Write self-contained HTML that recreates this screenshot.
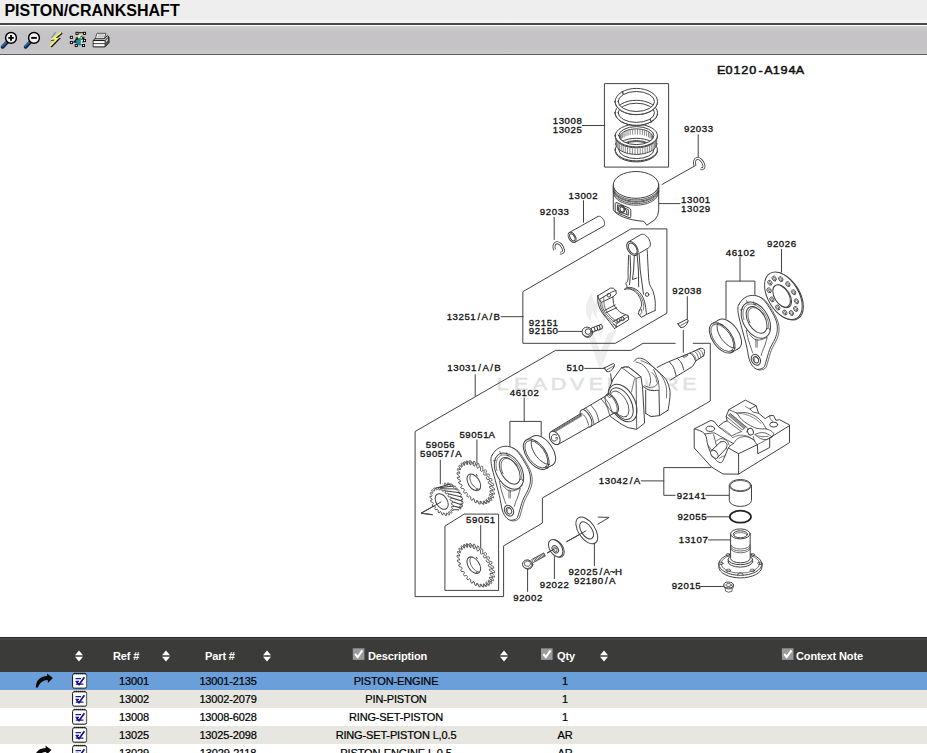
<!DOCTYPE html>
<html>
<head>
<meta charset="utf-8">
<title>PISTON/CRANKSHAFT</title>
<style>
html,body{margin:0;padding:0;background:#fff;}
body{width:927px;height:753px;overflow:hidden;position:relative;font-family:"Liberation Sans",Arial,sans-serif;color:#000;}
#title{position:absolute;left:0;top:0;width:927px;height:24px;background:linear-gradient(#eeeeee,#eeeeee 18px,#f2f3f3 21px,#f5f5f5);}
#title span{position:absolute;left:4.4px;top:1px;font-size:16px;font-weight:bold;line-height:19px;letter-spacing:0.03px;white-space:nowrap;}
#tline{position:absolute;left:0;top:23px;width:927px;height:2px;background:#4a4a4a;}
#tbar{position:absolute;left:0;top:26px;width:927px;height:28px;background:linear-gradient(#d0d0d0,#c8c7c8 4px,#c5c3c5 8px,#c5c3c5 24px,#cccbcc 27px);}
#tline2{position:absolute;left:0;top:54px;width:927px;height:1px;background:#5c5c5c;}
#icons{position:absolute;left:0;top:26px;}
#diagram{position:absolute;left:0;top:55px;}
#thead{position:absolute;left:0;top:637px;width:927px;height:35px;background:linear-gradient(#2c2c2c,#2c2c2c 1.5px,#454545 1.5px,#454545 3px,#3b3b39 3.5px);box-sizing:border-box;color:#fff;font-weight:bold;font-size:11px;}
#thead span{position:absolute;top:12.6px;line-height:13px;white-space:nowrap;letter-spacing:-0.12px;}
.sa{position:absolute;top:0;left:0;}
.row{position:absolute;left:0;width:927px;height:18px;font-size:11px;line-height:18px;letter-spacing:-0.15px;-webkit-text-stroke:0.22px #000;}
.row span{position:absolute;top:0;white-space:nowrap;transform:translateX(-50%);}
.r0{background:#6b9fd9;}
.r1{background:#e8e6e1;}
.r2{background:#fff;}
</style>
</head>
<body>
<div id="title"><span>PISTON/CRANKSHAFT</span></div>
<div id="tline"></div>
<div id="tbar"></div>
<div id="tline2"></div>
<svg id="icons" width="120" height="28" viewBox="0 26 120 28">
<defs><linearGradient id="hg" x1="0" y1="0" x2="1" y2="1"><stop offset="0" stop-color="#7fb4dc"/><stop offset="0.5" stop-color="#1f5f9a"/><stop offset="1" stop-color="#0a1e46"/></linearGradient></defs>
<g id="zin">
<path d="M7 42.3 L2.6 46.9" stroke="#0b1a3a" stroke-width="3.6" stroke-linecap="round"/>
<path d="M6.6 41.9 L2.4 46.3" stroke="url(#hg)" stroke-width="2.2" stroke-linecap="round"/>
<circle cx="11" cy="37.9" r="5.4" fill="#f2f2f2" stroke="#000" stroke-width="1.5"/>
<path d="M8.2 37.9H13.8M11 35.1V40.7" stroke="#000" stroke-width="1.9"/>
</g>
<g id="zout" transform="translate(23,0)">
<path d="M7 42.3 L2.6 46.9" stroke="#0b1a3a" stroke-width="3.6" stroke-linecap="round"/>
<path d="M6.6 41.9 L2.4 46.3" stroke="url(#hg)" stroke-width="2.2" stroke-linecap="round"/>
<circle cx="11" cy="37.9" r="5.4" fill="#f2f2f2" stroke="#000" stroke-width="1.5"/>
<path d="M8.2 37.9H13.8" stroke="#000" stroke-width="1.9"/>
</g>
<g id="bolt">
<path d="M55.6 32.4 L51.4 38" stroke="#8a8a8a" stroke-width="1.1"/>
<path d="M61.9 32.8 L54 39.4 L58.1 39.2 L50.9 46.6" fill="none" stroke="#111" stroke-width="2.3" stroke-linejoin="miter" stroke-linecap="butt"/>
<path d="M61.1 32.3 L53 38.8 L57.2 38.6 L50.2 45.9" fill="none" stroke="#f6f670" stroke-width="1.7" stroke-linejoin="miter" stroke-linecap="butt"/>
</g>
<g id="bug">
<path d="M72.6 42.6 L77.6 37.2 L78.2 43.2 Z" fill="#15154f"/>
<circle cx="79.7" cy="41.8" r="3.7" fill="#1f8a8a"/>
<path d="M80.8 39.9 h2.4 v1.3 h-1.3 v1.5 h1.3 v1.3 h-2.4 z" fill="#e4e4e4"/>
<path d="M78.2 37.6 Q78 34.4 80.8 34.4 Q83.6 34.4 83.4 37.6 Q80.8 38.8 78.2 37.6Z" fill="#f2f2a4"/>
<path d="M80.2 37.6 Q80.4 35.8 82.6 36" fill="none" stroke="#222" stroke-width="0.9"/>
<path d="M78.2 32.7 H83.4" stroke="#000" stroke-width="0.9"/>
<g fill="#fff" stroke="#000" stroke-width="0.9">
<rect x="76" y="32.3" width="2.1" height="2.1"/><rect x="83.5" y="32.3" width="2.1" height="2.1"/>
<rect x="70.3" y="36.3" width="2.1" height="2.1"/><rect x="70.3" y="41.5" width="2.1" height="2.1"/>
<rect x="75.2" y="44.5" width="2.1" height="2.1"/><rect x="82.5" y="44.5" width="2.1" height="2.1"/>
<rect x="83.5" y="39.5" width="2.1" height="2.1"/>
<rect x="76.2" y="38" width="1.3" height="1.3"/>
<rect x="82.6" y="37.2" width="1.3" height="1.3"/>
</g>
</g>
<g id="printer">
<path d="M95.2 39.2 L97 33.3 L105.9 33.3 L104.2 39.2 Z" fill="#fff" stroke="#444" stroke-width="0.9"/>
<path d="M98 35 H104.3 M97.5 36.9 H103.8" stroke="#9a9a9a" stroke-width="0.9"/>
<path d="M93.2 40.3 L95 38.8 L104.6 38.8 L107.4 35.6 L108.9 37.2 L108.9 42.6 L104.8 46.9 L93.2 46.9 Z" fill="#e9e9e9" stroke="#1a1a1a" stroke-width="1"/>
<path d="M104.8 40.6 L108.7 36.8 L108.9 42.6 L104.8 46.9 Z" fill="#555" stroke="#1a1a1a" stroke-width="0.6"/>
<path d="M105.8 40.6 L107.9 38.4 L107.9 40.2 L105.8 42.6 Z" fill="#ddd"/>
<path d="M93.2 40.5 H104.8" stroke="#1a1a1a" stroke-width="1"/>
<path d="M93.6 42.2 H104.6" stroke="#fff" stroke-width="1.1"/>
<path d="M93.2 43.6 H104.8" stroke="#333" stroke-width="0.9"/>
<path d="M93.6 45.2 H104.6" stroke="#fff" stroke-width="1.1"/>
</g>
</svg>
<svg id="diagram" width="927" height="580" viewBox="0 55 927 580" fill="none" stroke="#424242" stroke-width="1" stroke-linecap="round" stroke-linejoin="round">
<g id="wm" stroke="none" fill="#eeeeee">
<path d="M592 292 C589 298 585.5 302 586 310 C586.4 316 589 320 592 323 C590.6 318 591 314 593 311 C593.6 315 595 317 597.4 318.6 C596 314 596.6 310 598.6 306 C599.6 310 601.4 312 602.4 316 C603.2 320 601.6 323 599.6 325.6 C604 323 606.6 318 605.6 312 C604.6 306 600 302 598.6 296 C597 299 595.6 301 595.4 304 C593.4 300 592 297 592 292 Z"/>
<path d="M587 330 L593.4 334 L600.4 352 L607.6 334 L616.6 328.6 L613.4 337 L601 368 L599.4 368 L589.6 340 Z"/>
<path d="M596 326 L600.4 338 L604.6 326 L602.6 325 L600.4 331 L598 325 Z"/>
<text transform="scale(1.3,1)" font-family="Liberation Sans, Arial, sans-serif" font-size="16.6" text-anchor="middle" fill="#e1e1e1" stroke="#e1e1e1" stroke-width="0.5" x="386.5 400.9 415.3 429.7 444.1 458.5 472.8 487.2 501.6 516 530.4" y="390.4">LEADVENTURE</text>
</g>
<g font-family="Liberation Sans, Arial, sans-serif" fill="#111" stroke="none">
<text transform="scale(1.08,1)" x="667.8 675.1 682.4 689.7 696.9 704.2 711.5 718.8 726 733.3 740.6" y="74" font-size="11.7" font-weight="normal" stroke="#111" stroke-width="0.5" text-anchor="middle">E0120-A194A</text>
<text transform="scale(1.11,1)" x="500.5 505.8 511.1 516.5 521.8" y="124.5" font-size="8.7" font-weight="normal" stroke="#111" stroke-width="0.3" text-anchor="middle">13008</text>
<text transform="scale(1.11,1)" x="500.5 505.8 511.1 516.5 521.8" y="133.3" font-size="8.7" font-weight="normal" stroke="#111" stroke-width="0.3" text-anchor="middle">13025</text>
<text transform="scale(1.11,1)" x="618.6 624 629.3 634.7 640" y="131.8" font-size="8.7" font-weight="normal" stroke="#111" stroke-width="0.3" text-anchor="middle">92033</text>
<text transform="scale(1.11,1)" x="514.6 519.9 525.3 530.6 536" y="199.4" font-size="8.7" font-weight="normal" stroke="#111" stroke-width="0.3" text-anchor="middle">13002</text>
<text transform="scale(1.11,1)" x="488.7 494.1 499.4 504.8 510.1" y="214.9" font-size="8.7" font-weight="normal" stroke="#111" stroke-width="0.3" text-anchor="middle">92033</text>
<text transform="scale(1.11,1)" x="616 621.4 626.7 632.1 637.4" y="203.2" font-size="8.7" font-weight="normal" stroke="#111" stroke-width="0.3" text-anchor="middle">13001</text>
<text transform="scale(1.11,1)" x="616 621.4 626.7 632.1 637.4" y="211.8" font-size="8.7" font-weight="normal" stroke="#111" stroke-width="0.3" text-anchor="middle">13029</text>
<text transform="scale(1.11,1)" x="693.4 698.8 704.1 709.5 714.8" y="247.3" font-size="8.7" font-weight="normal" stroke="#111" stroke-width="0.3" text-anchor="middle">92026</text>
<text transform="scale(1.11,1)" x="656.2 661.6 666.9 672.2 677.6" y="255.8" font-size="8.7" font-weight="normal" stroke="#111" stroke-width="0.3" text-anchor="middle">46102</text>
<text transform="scale(1.11,1)" x="608.1 613.5 618.8 624.1 629.5" y="293.9" font-size="8.7" font-weight="normal" stroke="#111" stroke-width="0.3" text-anchor="middle">92038</text>
<text transform="scale(1.11,1)" x="404.8 410.1 415.5 420.8 426.1 431.5 436.8 442.2 447.5" y="320.4" font-size="8.7" font-weight="normal" stroke="#111" stroke-width="0.3" text-anchor="middle">13251/A/B</text>
<text transform="scale(1.11,1)" x="478.8 484.2 489.5 494.9 500.2" y="325.6" font-size="8.7" font-weight="normal" stroke="#111" stroke-width="0.3" text-anchor="middle">92151</text>
<text transform="scale(1.11,1)" x="478.8 484.2 489.5 494.9 500.2" y="334.4" font-size="8.7" font-weight="normal" stroke="#111" stroke-width="0.3" text-anchor="middle">92150</text>
<text transform="scale(1.11,1)" x="405.4 410.7 416.1 421.4 426.8 432.1 437.5 442.8 448.1" y="371.4" font-size="8.7" font-weight="normal" stroke="#111" stroke-width="0.3" text-anchor="middle">13031/A/B</text>
<text transform="scale(1.11,1)" x="512.7 518 523.4" y="371.4" font-size="8.7" font-weight="normal" stroke="#111" stroke-width="0.3" text-anchor="middle">510</text>
<text transform="scale(1.11,1)" x="461.6 467 472.3 477.6 483" y="395.8" font-size="8.7" font-weight="normal" stroke="#111" stroke-width="0.3" text-anchor="middle">46102</text>
<text transform="scale(1.11,1)" x="416.3 421.6 427 432.3 437.7 443" y="438.1" font-size="8.7" font-weight="normal" stroke="#111" stroke-width="0.3" text-anchor="middle">59051A</text>
<text transform="scale(1.11,1)" x="385.9 391.2 396.5 401.9 407.2" y="448.1" font-size="8.7" font-weight="normal" stroke="#111" stroke-width="0.3" text-anchor="middle">59056</text>
<text transform="scale(1.11,1)" x="380.9 386.2 391.6 396.9 402.3 407.6 413" y="457.1" font-size="8.7" font-weight="normal" stroke="#111" stroke-width="0.3" text-anchor="middle">59057/A</text>
<text transform="scale(1.11,1)" x="422.3 427.7 433 438.4 443.7" y="523.4" font-size="8.7" font-weight="normal" stroke="#111" stroke-width="0.3" text-anchor="middle">59051</text>
<text transform="scale(1.11,1)" x="541.9 547.2 552.6 557.9 563.3 568.6 573.9" y="484.2" font-size="8.7" font-weight="normal" stroke="#111" stroke-width="0.3" text-anchor="middle">13042/A</text>
<text transform="scale(1.11,1)" x="612.2 617.5 622.8 628.2 633.5" y="498.6" font-size="8.7" font-weight="normal" stroke="#111" stroke-width="0.3" text-anchor="middle">92141</text>
<text transform="scale(1.11,1)" x="612.7 618 623.4 628.7 634.1" y="520" font-size="8.7" font-weight="normal" stroke="#111" stroke-width="0.3" text-anchor="middle">92055</text>
<text transform="scale(1.11,1)" x="614 619.3 624.6 630 635.3" y="543.2" font-size="8.7" font-weight="normal" stroke="#111" stroke-width="0.3" text-anchor="middle">13107</text>
<text transform="scale(1.11,1)" x="607.6 612.9 618.3 623.6 628.9" y="589.4" font-size="8.7" font-weight="normal" stroke="#111" stroke-width="0.3" text-anchor="middle">92015</text>
<text transform="scale(1.11,1)" x="514.5 519.8 525.2 530.5 535.9 541.2 546.6 551.9 557.2" y="575" font-size="8.7" font-weight="normal" stroke="#111" stroke-width="0.3" text-anchor="middle">92025/A~H</text>
<text transform="scale(1.11,1)" x="519.5 524.9 530.2 535.6 540.9 546.3 551.6" y="584" font-size="8.7" font-weight="normal" stroke="#111" stroke-width="0.3" text-anchor="middle">92180/A</text>
<text transform="scale(1.11,1)" x="488.6 494 499.3 504.7 510" y="587.9" font-size="8.7" font-weight="normal" stroke="#111" stroke-width="0.3" text-anchor="middle">92022</text>
<text transform="scale(1.11,1)" x="464.9 470.2 475.5 480.9 486.2" y="601.1" font-size="8.7" font-weight="normal" stroke="#111" stroke-width="0.3" text-anchor="middle">92002</text>
</g>
<g id="boxes">
<rect x="604.8" y="83.6" width="63.8" height="83.5"/>
<path d="M523.2 291.5 L631 228.9 L666.9 228.9 L666.9 313.2 L615.4 343.3 L523.2 343.3 Z"/>
<path d="M675.2 343.3 L643 343.3 L631.2 350.4 L555.5 350.4 L415.1 431.5 L415.1 596.6 L503.6 596.6 L503.6 545.9 L542.4 523.1 L542.4 498 L710.3 401 L710.3 343.3 L693.2 343.3"/>
<path d="M445.3 525.9 L464.2 514.1 L498.6 514.1 L498.6 590.4 L445.3 590.4 Z"/>
</g>
<g id="leaders">
<path d="M582.5 125.5 L604.8 125.5"/>
<path d="M698.2 134.7 L698.2 157.3"/>
<path d="M696 165.2 L662 184.5"/>
<path d="M583.5 200.7 L583.5 222.3"/>
<path d="M554.2 217.3 L554.2 239.5"/>
<path d="M659.4 203.6 L680 203.6"/>
<path d="M781.5 249.5 L781.5 272.2"/>
<path d="M740 257.3 L740 281.1"/>
<path d="M726 318.7 L726 281.1 L754.9 281.1 L754.9 294.5"/>
<path d="M687.3 296.6 L687.3 318.8"/>
<path d="M683.3 330.5 L683.3 352.4"/>
<path d="M501.1 316.7 L523.2 316.7"/>
<path d="M558.2 331.4 L582.1 331.4"/>
<path d="M475.2 374.6 L475.2 396.2"/>
<path d="M584.7 368.4 L603.7 368.4"/>
<path d="M610.6 373.9 L612 383.8"/>
<path d="M524.2 397.9 L524.2 421.4"/>
<path d="M509.9 446.7 L509.9 421.4 L541.2 421.4 L541.2 437.8"/>
<path d="M476.9 439.9 L476.9 463"/>
<path d="M440.3 460.1 L440.3 483.7"/>
<path d="M480.7 525.5 L480.7 548.3"/>
<path d="M441 502 L421.1 513.2 L432.3 514.7"/>
<path d="M641.2 480.9 L663.8 480.9"/>
<path d="M711 467.6 L663.8 467.6 L663.8 495.3 L675.1 495.3"/>
<path d="M705.8 495.3 L729.4 495.3"/>
<path d="M706.8 516.8 L729.6 516.8"/>
<path d="M708.5 539.9 L731 539.9"/>
<path d="M700.7 586.5 L723.4 586.5"/>
<path d="M594.4 543.1 L594.4 565.7"/>
<path d="M554.4 556.6 L554.4 578.5"/>
<path d="M527.6 568.7 L527.6 591.4"/>
<path d="M566.9 541.5 L584.6 531.7"/>
<path d="M547.6 552.9 L552.1 550.6"/>
<path d="M597.9 524.2 L609.1 517.4 L598.2 517.1"/>
</g>
<g id="rings">
<path d="M615.2 149.6 L615.2 150.6 A21.1 11.3 0 0 0 657.4 150.6 L657.4 149.6 A21.1 11.3 0 0 1 615.2 149.6 Z" fill="#fff"/>
<path d="M615.2 149.6 A21.1 11.3 0 1 1 657.4 149.6 A21.1 11.3 0 1 1 615.2 149.6 Z M618.7 149.6 A17.6 9 0 1 0 653.9 149.6 A17.6 9 0 1 0 618.7 149.6 Z" fill="#fff" fill-rule="evenodd"/>
<path d="M619.3 148.4 L620 147.2 L621 146.2 L622.3 145.2 L623.8 144.3 L625.5 143.5 L627.4 142.8 L629.5 142.3 L631.7 141.9 L634 141.7 L636.3 141.6 L638.6 141.7 L640.9 141.9 L643.1 142.3 L645.2 142.8 L647.1 143.5 L648.8 144.3 L650.3 145.2 L651.6 146.2 L652.6 147.2 L653.3 148.4"/>
<path d="M615.7 137.0 A20.6 11.0 0 0 0 656.9 137.0 L656.9 143.4 A20.6 11.0 0 0 1 615.7 143.4 Z" fill="#fff" stroke="none"/>
<path d="M656.9 143.4 L656.7 144.8 L656.2 146.2 L655.3 147.6 L654.1 148.9 L652.6 150.1 L650.9 151.2 L648.8 152.1 L646.6 152.9 L644.2 153.6 L641.6 154 L639 154.3 L636.3 154.4 L633.6 154.3 L631 154 L628.4 153.6 L626 152.9 L623.8 152.1 L621.7 151.2 L620 150.1 L618.5 148.9 L617.3 147.6 L616.4 146.2 L615.9 144.8 L615.7 143.4"/>
<path d="M656.7 139.2 L656.7 144.2 M656.3 140.5 L656.3 145.5 M655.5 141.8 L655.5 146.8 M654.4 143.1 L654.4 148.1 M653 144.3 L653 149.3 M651.3 145.3 L651.3 150.3 M649.4 146.3 L649.4 151.3 M647.3 147.1 L647.3 152.1 M645.1 147.8 L645.1 152.8 M642.7 148.3 L642.7 153.3 M640.2 148.6 L640.2 153.6 M637.6 148.8 L637.6 153.8 M635 148.8 L635 153.8 M632.4 148.6 L632.4 153.6 M629.9 148.3 L629.9 153.3 M627.5 147.8 L627.5 152.8 M625.3 147.1 L625.3 152.1 M623.2 146.3 L623.2 151.3 M621.3 145.3 L621.3 150.3 M619.6 144.3 L619.6 149.3 M618.2 143.1 L618.2 148.1 M617.1 141.8 L617.1 146.8 M616.3 140.5 L616.3 145.5 M615.9 139.2 L615.9 144.2 " stroke-width="0.7" stroke="#5a5a5a"/>
<path d="M619.8 136.7 L620.1 135.6 L620.7 134.6 L621.5 133.7 L622.5 132.7 L623.7 131.9 L625.1 131.1 L626.7 130.5 L628.5 129.9 L630.3 129.5 L632.3 129.2 L634.3 129 L636.3 128.9 L638.3 129 L640.3 129.2 L642.3 129.5 L644.1 129.9 L645.9 130.5 L647.5 131.1 L648.9 131.9 L650.1 132.7 L651.1 133.7 L651.9 134.6 L652.5 135.6 L652.8 136.7"/>
<path d="M619.9 137.1 L619.9 141.3 M620.4 135.9 L620.4 140.1 M621.3 134.7 L621.3 138.9 M622.6 133.6 L622.6 137.8 M624.1 132.6 L624.1 136.8 M626 131.7 L626 135.9 M628 131 L628 135.2 M630.2 130.4 L630.2 134.6 M632.6 130 L632.6 134.2 M635.1 129.8 L635.1 134 M637.5 129.8 L637.5 134 M640 130 L640 134.2 M642.4 130.4 L642.4 134.6 M644.6 131 L644.6 135.2 M646.6 131.7 L646.6 135.9 M648.5 132.6 L648.5 136.8 M650 133.6 L650 137.8 M651.3 134.7 L651.3 138.9 M652.2 135.9 L652.2 140.1 M652.7 137.1 L652.7 141.3 " stroke-width="0.7" stroke="#5a5a5a"/>
<path d="M615.2 135.6 L615.2 136.5 A21.1 11.3 0 0 0 657.4 136.5 L657.4 135.6 A21.1 11.3 0 0 1 615.2 135.6 Z" fill="#fff"/>
<path d="M615.2 135.6 A21.1 11.3 0 1 1 657.4 135.6 A21.1 11.3 0 1 1 615.2 135.6 Z M618.7 135.6 A17.6 9 0 1 0 653.9 135.6 A17.6 9 0 1 0 618.7 135.6 Z" fill="#fff" fill-rule="evenodd"/>
<path d="M615.1 112.8 L615.1 112.8 A21.2 12.5 0 0 0 657.5 112.8 L657.5 112.8 A21.2 12.5 0 0 1 615.1 112.8 Z" fill="#fff"/>
<path d="M615.1 112.8 A21.2 12.5 0 1 1 657.5 112.8 A21.2 12.5 0 1 1 615.1 112.8 Z M618.1 112.8 A18.2 9.6 0 1 0 654.5 112.8 A18.2 9.6 0 1 0 618.1 112.8 Z" fill="#fff" fill-rule="evenodd"/>
<path d="M650.2 119.6 L651.6 122" stroke-width="1.2"/>
<path d="M615.1 101.5 L615.1 101.5 A21.2 13.1 0 0 0 657.5 101.5 L657.5 101.5 A21.2 13.1 0 0 1 615.1 101.5 Z" fill="#fff"/>
<path d="M615.1 101.5 A21.2 13.1 0 1 1 657.5 101.5 A21.2 13.1 0 1 1 615.1 101.5 Z M618.1 101.5 A18.2 10 0 1 0 654.5 101.5 A18.2 10 0 1 0 618.1 101.5 Z" fill="#fff" fill-rule="evenodd"/>
<path d="M622.3 91.8 L623.3 94.2" stroke-width="1.3"/>
</g>
<g id="piston">
<path d="M613.3 184.9 L613.3 209.8 C616 215 628 220.4 643.8 221.3 L646.8 225.2 L654.8 219.8 Q658.7 216 658.7 209.8 L658.7 184.9" fill="#fff"/>
<ellipse cx="636" cy="184.9" rx="22.7" ry="13.4" fill="#fff"/>
<path d="M658.7 186.5 L658.6 187.9 L658.2 189.3 L657.6 190.6 L656.7 192 L655.7 193.2 L654.4 194.4 L652.9 195.5 L651.2 196.5 L649.3 197.3 L647.4 198.1 L645.2 198.7 L643 199.2 L640.7 199.6 L638.4 199.8 L636 199.9 L633.6 199.8 L631.3 199.6 L629 199.2 L626.8 198.7 L624.6 198.1 L622.7 197.3 L620.8 196.5 L619.1 195.5 L617.6 194.4 L616.3 193.2 L615.3 192 L614.4 190.6 L613.8 189.3 L613.4 187.9 L613.3 186.5" stroke-width="0.9"/>
<path d="M658.7 187.9 L658.6 189.3 L658.2 190.7 L657.6 192 L656.7 193.4 L655.7 194.6 L654.4 195.8 L652.9 196.9 L651.2 197.9 L649.3 198.7 L647.4 199.5 L645.2 200.1 L643 200.6 L640.7 201 L638.4 201.2 L636 201.3 L633.6 201.2 L631.3 201 L629 200.6 L626.8 200.1 L624.6 199.5 L622.7 198.7 L620.8 197.9 L619.1 196.9 L617.6 195.8 L616.3 194.6 L615.3 193.4 L614.4 192 L613.8 190.7 L613.4 189.3 L613.3 187.9" stroke-width="0.9"/>
<path d="M658.7 188.8 L658.6 190.2 L658.2 191.6 L657.6 192.9 L656.7 194.3 L655.7 195.5 L654.4 196.7 L652.9 197.8 L651.2 198.8 L649.3 199.6 L647.4 200.4 L645.2 201 L643 201.5 L640.7 201.9 L638.4 202.1 L636 202.2 L633.6 202.1 L631.3 201.9 L629 201.5 L626.8 201 L624.6 200.4 L622.7 199.6 L620.8 198.8 L619.1 197.8 L617.6 196.7 L616.3 195.5 L615.3 194.3 L614.4 192.9 L613.8 191.6 L613.4 190.2 L613.3 188.8" stroke-width="0.9"/>
<path d="M658.7 190.3 L658.6 191.7 L658.2 193.1 L657.6 194.4 L656.7 195.8 L655.7 197 L654.4 198.2 L652.9 199.3 L651.2 200.3 L649.3 201.1 L647.4 201.9 L645.2 202.5 L643 203 L640.7 203.4 L638.4 203.6 L636 203.7 L633.6 203.6 L631.3 203.4 L629 203 L626.8 202.5 L624.6 201.9 L622.7 201.1 L620.8 200.3 L619.1 199.3 L617.6 198.2 L616.3 197 L615.3 195.8 L614.4 194.4 L613.8 193.1 L613.4 191.7 L613.3 190.3" stroke-width="0.9"/>
<path d="M658.7 191.8 L658.6 193.2 L658.2 194.6 L657.6 195.9 L656.7 197.3 L655.7 198.5 L654.4 199.7 L652.9 200.8 L651.2 201.8 L649.3 202.6 L647.4 203.4 L645.2 204 L643 204.5 L640.7 204.9 L638.4 205.1 L636 205.2 L633.6 205.1 L631.3 204.9 L629 204.5 L626.8 204 L624.6 203.4 L622.7 202.6 L620.8 201.8 L619.1 200.8 L617.6 199.7 L616.3 198.5 L615.3 197.3 L614.4 195.9 L613.8 194.6 L613.4 193.2 L613.3 191.8" stroke-width="0.9"/>
<path d="M616.6 202.6 L629.4 208.2 Q630.8 208.9 630.8 210.4 L630.8 216.4 Q630.7 218.3 629 217.6 L616.4 212.3 Q615.2 211.7 615.2 210.2 L615.2 203.6 Q615.4 202.1 616.6 202.6 Z"/>
<path d="M617.8 205 L628.3 209.6 L628.3 215.3 L617.8 210.8 Z"/>
<ellipse cx="621.6" cy="209.2" rx="3.1" ry="3.7" transform="rotate(-15 621.6 209.2)"/>
<ellipse cx="622" cy="209.4" rx="2" ry="2.6" transform="rotate(-15 622 209.4)"/>
<path d="M625 208.6 Q627.3 210.5 627 214.3"/>
</g>
<g id="pin">
<path d="M569.4 232.5 L597.9 216.5"/>
<path d="M574.8 242.3 L603.3 226.3"/>
<ellipse cx="572.1" cy="237.4" rx="5.6" ry="3.3" transform="rotate(60.6 572.1 237.4)"/>
<ellipse cx="572.3" cy="237.3" rx="3.9" ry="2.1" transform="rotate(60.6 572.3 237.3)"/>
<path d="M597.9 216.5 L598.2 216.4 L598.7 216.3 L599.2 216.3 L599.7 216.4 L600.2 216.5 L600.7 216.8 L601.2 217.1 L601.7 217.6 L602.2 218 L602.7 218.6 L603.1 219.2 L603.5 219.8 L603.8 220.4 L604.1 221.1 L604.3 221.8 L604.5 222.4 L604.6 223.1 L604.6 223.7 L604.5 224.3 L604.4 224.8 L604.2 225.3 L604 225.7 L603.7 226 L603.3 226.3"/>
</g>
<g id="circlips">
<g transform="translate(0,0)"><path d="M695 165.6 C693.6 162 694.8 158.7 697.4 158.4 C700.2 158.2 703.2 161.8 704 165.8 C704.3 167.8 702.6 169.2 700.6 168.7" stroke-width="2.9" stroke-linecap="butt"/><path d="M695 165.6 C693.6 162 694.8 158.7 697.4 158.4 C700.2 158.2 703.2 161.8 704 165.8 C704.3 167.8 702.6 169.2 700.6 168.7" stroke="#fff" stroke-width="1.2" stroke-linecap="butt"/></g>
<g transform="translate(-140.5,84.3)"><path d="M695 165.6 C693.6 162 694.8 158.7 697.4 158.4 C700.2 158.2 703.2 161.8 704 165.8 C704.3 167.8 702.6 169.2 700.6 168.7" stroke-width="2.9" stroke-linecap="butt"/><path d="M695 165.6 C693.6 162 694.8 158.7 697.4 158.4 C700.2 158.2 703.2 161.8 704 165.8 C704.3 167.8 702.6 169.2 700.6 168.7" stroke="#fff" stroke-width="1.2" stroke-linecap="butt"/></g>
</g>
<g id="conrod">
<path d="M647.2 249.9 C647.4 253.2 647.9 264.5 648.2 270 C648.6 275.5 648.5 279.6 649.3 283.1 C650.1 286.6 652 288.3 653 291.2 C654 294.1 654.8 297.5 655.1 300.7 C655.5 303.9 655.1 308.9 655.1 310.5"/>
<path d="M655.1 310.5 L646.4 314.5 L641.3 317.4 L638.4 313.8"/>
<path d="M628.6 255.2 C628.5 259.1 628.3 263.3 628.1 270 C627.9 276.7 628.4 276.7 627.8 280.2 C627.2 283.7 626.1 281.2 625.9 283.1 C625.7 285 627.4 285.5 627 287.2 C626.6 288.9 625.2 288.7 624.5 289.3"/>
<path d="M630.1 255.6 L630.7 270 L629.6 284.6"/>
<path d="M634.3 255.9 L633.6 270 L632.5 279.5 L636.9 278"/>
<path d="M637.2 255.2 L638.4 270 L638.7 286.8"/>
<path d="M639.2 254.6 L640.2 270 L643.5 294.1"/>
<path d="M624.5 289.3 C625.4 289.2 627.8 288.6 629.6 289 C631.4 289.4 633.7 290.4 635.4 291.9 C637.1 293.3 638.8 295.5 639.8 297.7 C640.8 299.9 641.7 302.8 641.6 305 C641.5 307.2 639.6 309.4 639.1 310.9 C638.6 312.4 638.5 313.3 638.4 313.8"/>
<path d="M627 287.4 C627.9 287.5 630.6 287.3 632.5 287.9 C634.4 288.5 636.6 289.6 638.4 291.2 C640.2 292.8 642 295.4 643.1 297.7 C644.2 300 644.8 302.3 645.3 305 C645.8 307.7 646.2 312.3 646.4 313.8"/>
<path d="M628 288.4 C628.8 288.5 631.4 288.6 633 289.2 C634.6 289.8 636 290.7 637.4 292.2 C638.8 293.7 640.6 295.9 641.6 298 C642.6 300.1 643.3 303 643.6 305 C643.9 307 643.3 309.2 643.3 310" stroke-width="0.7"/>
<path d="M639.1 310.9 L641.4 309.2 L641.9 312.4 L640 314.6" stroke-width="0.8"/>
<ellipse cx="647.1" cy="294.5" rx="1.7" ry="1.9"/>
<path d="M628.3 242 L640.6 234.7 L641.5 234.3 L642.5 234.2 L643.5 234.4 L644.6 234.8 L645.7 235.5 L646.8 236.4 L647.8 237.5 L648.7 238.7 L649.4 240 L649.9 241.4 L650.3 242.8 L650.4 244.1 L650.3 245.2 L650 246.3 L649.5 247.1 L648.8 247.7 L636.5 255" fill="#fff"/>
<ellipse cx="632.4" cy="248.5" rx="7.7" ry="4.7" transform="rotate(58 632.4 248.5)" fill="#fff"/>
<ellipse cx="632.7" cy="248.6" rx="6.1" ry="3.6" transform="rotate(58 632.7 248.6)"/>
</g>
<g id="cap">
<path d="M597.7 295.8 L610.7 288 L613.5 288.3 L615.9 290.6 L616.3 293.9 L612.9 296.9"/>
<path d="M597.7 295.8 L599.2 299.5 L612.5 291.6 L615.9 290.6"/>
<path d="M599.2 299.5 L601.4 302.4 L612.9 296.9"/>
<path d="M603.6 297 L603.9 300.6" stroke-width="0.7"/>
<ellipse cx="608.9" cy="295.2" rx="1.7" ry="1.9"/>
<path d="M597.7 295.8 C597.8 297.2 597.6 301.4 598.4 304.3 C599.2 307.2 600.7 310.4 602.5 313.2 C604.3 316 607.2 318.8 609.2 321.4 C611.2 323.9 613.5 327.3 614.4 328.5"/>
<path d="M600 300 C600.1 301 599.9 303.7 600.6 306 C601.3 308.3 602.8 311.5 604.4 314 C606 316.5 608.4 318.7 610.4 320.8 C612.4 322.9 615.6 325.8 616.6 326.8" stroke-width="0.75"/>
<path d="M601.6 302.4 C601.8 303.3 602 306 602.8 308 C603.6 310 604.8 312.2 606.3 314.2 C607.8 316.2 610.1 318.5 612 320 C613.9 321.5 616.5 322.8 617.4 323.4" stroke-width="0.75"/>
<path d="M604 302 C604.1 302.9 604.1 305.6 604.8 307.5 C605.5 309.4 606.6 311.6 608 313.5 C609.4 315.4 611.2 317.2 613 318.6 C614.8 320 617.6 321.1 618.5 321.6" stroke-width="0.75"/>
<path d="M612.9 296.9 C613 297.6 613 299.5 613.2 301 C613.5 302.5 613.3 304 614.4 305.8 C615.5 307.6 617.7 310.2 619.6 311.7 C621.5 313.2 624.6 314.2 625.6 314.7"/>
<path d="M604.8 310.3 L615.2 305"/>
<path d="M606.3 312.5 L616.7 307.7"/>
<path d="M614.4 328.5 L628.6 319.9 L628.2 315.5 L625.6 314.7 L613 321.6"/>
<path d="M616.6 326.8 L616 323.6 L628.2 316.6" stroke-width="0.75"/>
<path d="M612.4 325.4 L614.2 324.2 L616 326.9" stroke-width="0.75"/>
<ellipse cx="618.5" cy="320.7" rx="1.6" ry="1.8"/>
<ellipse cx="622.6" cy="318.9" rx="1.6" ry="1.8"/>
</g>
<g id="capbolt">
<ellipse cx="600.6" cy="326.9" rx="1.7" ry="2.3" transform="rotate(-15 600.6 326.9)" fill="#fff"/>
<ellipse cx="598.3" cy="327.7" rx="1.7" ry="2.3" transform="rotate(-15 598.3 327.7)" fill="#fff"/>
<ellipse cx="595.8" cy="328.6" rx="1.7" ry="2.3" transform="rotate(-15 595.8 328.6)" fill="#fff"/>
<ellipse cx="593.2" cy="329.6" rx="1.7" ry="2.3" transform="rotate(-15 593.2 329.6)" fill="#fff"/>
<ellipse cx="587.7" cy="332.6" rx="5" ry="4.7" fill="#fff"/>
<ellipse cx="587.1" cy="331.8" rx="5" ry="4.7" fill="#fff"/>
<ellipse cx="588.2" cy="331.6" rx="3" ry="2.8"/>
</g>
<g id="crank">
<path d="M657.1 367.4 L666.6 362.6 L689.9 353.1 L691.6 352.3 L700.2 348.4"/>
<path d="M670 380.3 L692.5 366.5 L695.9 360.9 L703.7 355.7"/>
<path d="M700.2 348.4 C700.7 348.4 702.5 348.1 703.2 348.6 C703.9 349.1 704.5 350.2 704.6 351.4 C704.7 352.6 703.9 355 703.7 355.7"/>
<path d="M669.6 362.2 C670.3 363.1 672.5 365.2 673.6 367.5 C674.7 369.8 675.7 374.4 676.1 375.8"/>
<path d="M677.4 358.4 C678.1 359.2 680.3 361.1 681.4 363 C682.5 364.9 683.4 368.8 683.8 369.9"/>
<path d="M689.9 353.1 C690.5 353.6 692.4 354.7 693.3 356 C694.2 357.3 695.1 360.1 695.5 360.9"/>
<path d="M691 352.6 C691.5 353.1 693.4 354.1 694.3 355.4 C695.2 356.7 696 359.6 696.4 360.4" stroke-width="0.7"/>
<path d="M694 351.2 C694.5 351.6 696.2 352.5 697 353.9 C697.8 355.2 698.3 358.2 698.6 359" stroke-width="0.75"/>
<path d="M696.4 350 C696.9 350.4 698.6 351.4 699.4 352.7 C700.2 354 700.7 356.8 701 357.6" stroke-width="0.75"/>
<path d="M698.8 348.9 C699.3 349.3 701 350.3 701.8 351.6 C702.6 352.8 703.1 355.5 703.4 356.3" stroke-width="0.75"/>
<ellipse cx="685.3" cy="355.9" rx="2.6" ry="0.9" transform="rotate(-24 685.3 355.9)" stroke-width="0.8"/>
<path d="M634 361.4 C634.4 361 635.6 359.5 636.5 359 C637.4 358.5 637.8 358 639.3 358.2 C640.8 358.4 642.9 358.4 645.7 360.3 C648.5 362.2 652.9 366.7 656.3 369.9 C659.7 373.1 663.6 376 665.9 379.4 C668.1 382.8 669.2 386.7 669.8 390.1 C670.4 393.5 669.9 396.6 669.6 400 C669.3 403.4 668.3 408.5 668 410.2" fill="#fff"/>
<path d="M668 410.2 L659.5 415.6 L651 416.6 L645.7 413.4"/>
<path d="M641 360.6 C642.3 361.2 646.1 362.5 648.6 364 C651.1 365.5 653.8 367.2 656.2 369.5 C658.6 371.8 661.3 374.9 663 378 C664.7 381.1 665.8 384.7 666.4 388 C667 391.3 666.4 396.3 666.4 398" stroke-width="0.75"/>
<path d="M653.6 369.5 C654.3 371.2 657 376.7 657.9 379.9 C658.8 383.1 659 387.1 659.2 388.5" stroke-width="0.8"/>
<path d="M659 390.1 L659.5 415.6"/>
<path d="M645.7 390.1 L645.7 413.4"/>
<path d="M642.6 386 C643.5 386.6 646.3 388.8 648 389.6 C649.7 390.4 651.2 390.5 653 390.6 C654.8 390.7 658 390.2 659 390.1"/>
<path d="M644.6 385.8 C645.5 386.1 648.2 387.4 650 387.4 C651.8 387.4 654.1 387.1 655.5 386 C656.9 384.9 658.1 381.8 658.6 381" stroke-width="0.8"/>
<path d="M636 362 C636.9 362.3 639.8 363 641.5 364 C643.2 365 644.7 366.5 646 368.2 C647.3 369.9 648.7 371.9 649.5 374 C650.3 376.1 650.6 378.7 650.6 380.6 C650.6 382.5 649.8 384.8 649.6 385.6" stroke-width="0.8"/>
<path d="M652 372.6 C652.6 373.3 654.8 375.4 655.6 377 C656.4 378.6 656.4 381.2 656.6 382" stroke-width="0.75"/>
<path d="M621.8 367.7 C622.5 367.6 626.8 366.3 628.7 367.2 C630.6 368.1 639.7 375.8 640.9 376.8"/>
<path d="M621.8 367.7 L625 367 L628.7 367.2 L640.9 376.8 L642.5 386.9 L644.6 423 L636.7 429.4 L628 427.6 L621.2 424.1 L610.6 416.6 L607.2 404 L608.5 390.1 L613 379.5 Z" fill="#fff"/>
<path d="M621.8 367.7 L623.6 369 L636.1 378.4 L636.7 428.6" stroke-width="0.85"/>
<path d="M636.1 378.4 L640.9 376.8" stroke-width="0.8"/>
<path d="M634.4 379 L631.5 392" stroke-width="0.7"/>
<ellipse cx="622.6" cy="403" rx="20.3" ry="12.2" transform="rotate(62 622.6 403)"/>
<ellipse cx="621.4" cy="403.6" rx="17.2" ry="9.8" transform="rotate(62 621.4 403.6)"/>
<ellipse cx="619.6" cy="404" rx="14.2" ry="7.6" transform="rotate(62 619.6 404)" stroke-width="0.8"/>
<path d="M608.9 394.1 L582.1 410 L589.9 426.9 L615 412.6" fill="#fff" stroke="none"/>
<ellipse cx="612.2" cy="403.3" rx="10.4" ry="4.6" transform="rotate(62 612.2 403.3)" fill="#fff"/>
<ellipse cx="611.2" cy="403.8" rx="10.2" ry="4.5" transform="rotate(62 611.2 403.8)" fill="#fff" stroke-width="0.75"/>
<path d="M608.9 394.1 L582.1 410"/>
<path d="M615 412.6 L589.9 426.9"/>
<path d="M601.1 399 C602 400.2 605.2 403.3 606.6 406 C608 408.7 609.2 413.8 609.7 415.4" stroke-width="0.85"/>
<path d="M604 397.3 C604.9 398.5 608 401.6 609.4 404.4 C610.8 407.1 611.9 412.2 612.4 413.8" stroke-width="0.75"/>
<path d="M590.7 405.1 C591.6 406.3 594.8 409.6 596.2 412.4 C597.6 415.2 598.5 420.2 598.9 421.8" stroke-width="0.85"/>
<path d="M585.6 408 C586.6 409.2 590 412.6 591.4 415.4 C592.8 418.2 593.7 423.1 594.2 424.6" stroke-width="0.85"/>
<path d="M606.6 394.6 L609.2 397.6 L612.2 395.8" stroke-width="0.8"/>
<ellipse cx="586" cy="418.3" rx="9.6" ry="4.4" transform="rotate(62 586 418.3)" fill="#fff"/>
<path d="M580 413.9 C580.4 413.9 581.4 413.2 582.5 414 C583.6 414.8 585.4 416.8 586.4 418.6 C587.4 420.4 588.2 423.9 588.6 425" stroke-width="0.8"/>
<path d="M579.5 414.3 L551 431.6 L557.9 444.6 L589 426.9" fill="#fff" stroke="none"/>
<path d="M579.8 414.1 L551 431.6"/>
<path d="M589 426.9 L557.9 444.6"/>
<path d="M581.1 414.5 L553.1 431.4" stroke-width="0.8"/>
<path d="M581.5 415.2 L553.9 431.8" stroke-width="0.8"/>
<path d="M581.9 415.8 L554.7 432.3" stroke-width="0.6"/>
<ellipse cx="554.7" cy="437.9" rx="7.2" ry="4.7" transform="rotate(60 554.7 437.9)" fill="#fff"/>
<path d="M556.6 435.2 C554.6 433.6 552 434.6 551.4 437 C550.9 439.6 553 441.6 555.2 440.9 C556.8 440.3 557.6 438.9 557.4 437.6 L555.6 437.9"/>
</g>
<g id="keys">
<g transform="translate(0,0)">
<path d="M678 323.7 L687 319.2 Q688.4 319.6 688 321.6 Q686.6 325.4 684 326.9 Q681.6 327.8 680.6 327.4 Q678.4 326 678 323.7 Z" fill="#fff"/>
<path d="M678 323.7 Q680 325.2 680.6 327.4 M680.8 325.4 L688 321.4" stroke-width="0.75"/>
</g>
<g transform="translate(-73.6,44.2)">
<path d="M678 323.7 L687 319.2 Q688.4 319.6 688 321.6 Q686.6 325.4 684 326.9 Q681.6 327.8 680.6 327.4 Q678.4 326 678 323.7 Z" fill="#fff"/>
<path d="M678 323.7 Q680 325.2 680.6 327.4 M680.8 325.4 L688 321.4" stroke-width="0.75"/>
</g>
</g>
<g id="gasket">
<ellipse cx="784.5" cy="296.3" rx="26.1" ry="15.4" transform="rotate(59 784.5 296.3)" fill="#fff"/>
<ellipse cx="783.4" cy="295.8" rx="26.1" ry="15.4" transform="rotate(59 783.4 295.8)" fill="#fff"/>
<ellipse cx="782.6" cy="296.4" rx="12.4" ry="7.3" transform="rotate(59 782.6 296.4)"/>
<ellipse cx="781.6" cy="296" rx="12.2" ry="7.2" transform="rotate(59 781.6 296)" fill="#fff"/>
<ellipse cx="791.4" cy="313" rx="2.6" ry="2" transform="rotate(59 791.4 313)" stroke-width="0.8"/>
<ellipse cx="791.4" cy="313" rx="1.4" ry="1" transform="rotate(59 791.4 313)" stroke-width="0.6"/>
<ellipse cx="784.8" cy="312.5" rx="2.6" ry="2" transform="rotate(59 784.8 312.5)" stroke-width="0.8"/>
<ellipse cx="784.8" cy="312.5" rx="1.4" ry="1" transform="rotate(59 784.8 312.5)" stroke-width="0.6"/>
<ellipse cx="777.7" cy="307.5" rx="2.6" ry="2" transform="rotate(59 777.7 307.5)" stroke-width="0.8"/>
<ellipse cx="777.7" cy="307.5" rx="1.4" ry="1" transform="rotate(59 777.7 307.5)" stroke-width="0.6"/>
<ellipse cx="771.9" cy="299.4" rx="2.6" ry="2" transform="rotate(59 771.9 299.4)" stroke-width="0.8"/>
<ellipse cx="771.9" cy="299.4" rx="1.4" ry="1" transform="rotate(59 771.9 299.4)" stroke-width="0.6"/>
<ellipse cx="769.1" cy="290.3" rx="2.6" ry="2" transform="rotate(59 769.1 290.3)" stroke-width="0.8"/>
<ellipse cx="769.1" cy="290.3" rx="1.4" ry="1" transform="rotate(59 769.1 290.3)" stroke-width="0.6"/>
<ellipse cx="769.9" cy="282.7" rx="2.6" ry="2" transform="rotate(59 769.9 282.7)" stroke-width="0.8"/>
<ellipse cx="769.9" cy="282.7" rx="1.4" ry="1" transform="rotate(59 769.9 282.7)" stroke-width="0.6"/>
<ellipse cx="774.2" cy="278.6" rx="2.6" ry="2" transform="rotate(59 774.2 278.6)" stroke-width="0.8"/>
<ellipse cx="774.2" cy="278.6" rx="1.4" ry="1" transform="rotate(59 774.2 278.6)" stroke-width="0.6"/>
<ellipse cx="780.8" cy="279.1" rx="2.6" ry="2" transform="rotate(59 780.8 279.1)" stroke-width="0.8"/>
<ellipse cx="780.8" cy="279.1" rx="1.4" ry="1" transform="rotate(59 780.8 279.1)" stroke-width="0.6"/>
<ellipse cx="787.9" cy="284.1" rx="2.6" ry="2" transform="rotate(59 787.9 284.1)" stroke-width="0.8"/>
<ellipse cx="787.9" cy="284.1" rx="1.4" ry="1" transform="rotate(59 787.9 284.1)" stroke-width="0.6"/>
<ellipse cx="793.7" cy="292.2" rx="2.6" ry="2" transform="rotate(59 793.7 292.2)" stroke-width="0.8"/>
<ellipse cx="793.7" cy="292.2" rx="1.4" ry="1" transform="rotate(59 793.7 292.2)" stroke-width="0.6"/>
<ellipse cx="796.5" cy="301.3" rx="2.6" ry="2" transform="rotate(59 796.5 301.3)" stroke-width="0.8"/>
<ellipse cx="796.5" cy="301.3" rx="1.4" ry="1" transform="rotate(59 796.5 301.3)" stroke-width="0.6"/>
<ellipse cx="795.7" cy="308.9" rx="2.6" ry="2" transform="rotate(59 795.7 308.9)" stroke-width="0.8"/>
<ellipse cx="795.7" cy="308.9" rx="1.4" ry="1" transform="rotate(59 795.7 308.9)" stroke-width="0.6"/>
</g>
<g id="brgR">
<ellipse cx="728.7" cy="334.2" rx="17.4" ry="9.6" transform="rotate(54 728.7 334.2)" fill="#fff"/>
<path d="M711.9 323.8 L718.5 320.1 L738.9 348.3 L732.3 352 Z" fill="#fff" stroke="none"/>
<path d="M711.9 323.8 L718.5 320.1"/>
<path d="M732.3 352 L738.9 348.3"/>
<ellipse cx="722.1" cy="337.9" rx="17.4" ry="9.6" transform="rotate(54 722.1 337.9)" fill="#fff"/>
<ellipse cx="722.3" cy="337.9" rx="15.9" ry="8.3" transform="rotate(54 722.3 337.9)" stroke-width="0.8"/>
<path d="M735.2 348 L733.9 347.9 L732.6 347.6 L731.2 347.2 L729.7 346.5 L728.3 345.5 L726.8 344.4 L725.3 343.2 L724 341.7 L722.6 340.2 L721.4 338.6 L720.3 336.8 L719.4 335.1 L718.6 333.3 L717.9 331.6 L717.4 329.9 L717.2 328.2 L717.1 326.7 L717.2 325.3 L717.5 324.1 L718 323"/>
<path d="M720.4 324.4 L723 325.2" stroke-width="0.9"/>
<path d="M731.8 350.4 L733.6 351.6" stroke-width="1.1"/>
</g>
<g id="plateR">
<path d="M740.8 304.8 C741.7 303.3 743.3 300.9 745 299.5 C746.7 298.1 748.7 297 750.9 296.5 C753.1 296 755.7 295.8 758.1 296.5 C760.5 297.2 762.9 298.2 765.3 300.6 C767.7 303 770.4 307.3 772.5 310.8 C774.6 314.3 776.8 318.2 777.9 321.6 C779 325 779.2 328.1 779 331.1 C778.8 334.1 778 336.3 776.7 339.5 C775.4 342.7 772.8 346.5 771.3 350.3 C769.8 354.1 768.7 359.2 767.7 362.2 C766.7 365.2 766.7 366.9 765.3 368.2 C763.9 369.5 761.1 370.2 759.3 370 C757.5 369.8 755.9 368.7 754.5 367 C753.1 365.3 752 363.4 750.9 359.8 C749.8 356.2 749.2 350.5 748 345.5 C746.8 340.5 745.1 334.9 743.8 329.9 C742.5 324.9 740.9 319.2 740.2 315.6 C739.5 312 739.5 310.2 739.6 308.4 C739.7 306.6 739.9 306.3 740.8 304.8 Z" fill="#fff" stroke-width="0.8"/>
<path d="M739.1 304.1 C740 302.6 741.6 300.2 743.3 298.8 C745 297.4 747 296.3 749.2 295.8 C751.4 295.3 754 295.1 756.4 295.8 C758.8 296.5 761.2 297.5 763.6 299.9 C766 302.3 768.7 306.6 770.8 310.1 C772.9 313.6 775.1 317.5 776.2 320.9 C777.3 324.3 777.5 327.4 777.3 330.4 C777.1 333.4 776.3 335.6 775 338.8 C773.7 342 771.1 345.8 769.6 349.6 C768.1 353.4 767 358.5 766 361.5 C765 364.5 765 366.2 763.6 367.5 C762.2 368.8 759.4 369.5 757.6 369.3 C755.8 369.1 754.2 368 752.8 366.3 C751.4 364.6 750.3 362.7 749.2 359.1 C748.1 355.5 747.5 349.8 746.3 344.8 C745.1 339.8 743.4 334.2 742.1 329.2 C740.8 324.2 739.2 318.5 738.5 314.9 C737.8 311.3 737.8 309.5 737.9 307.7 C738 305.9 738.2 305.6 739.1 304.1 Z" fill="#fff"/>
<ellipse cx="755.9" cy="320.2" rx="19.6" ry="12.6" transform="rotate(60 755.9 320.2)"/>
<ellipse cx="756.6" cy="319.9" rx="14.6" ry="8.6" transform="rotate(60 756.6 319.9)"/>
<path d="M749.9 322.7 L749.1 320.9 L748.6 319.1 L748.2 317.3 L748 315.5 L748 313.9 L748.2 312.4 L748.6 311.1 L749.2 309.9 L750 309 L750.9 308.3 L752 307.8 L753.2 307.6 L754.5 307.7 L755.8 308 L757.2 308.6 L758.6 309.4 L760 310.4 L761.4 311.7 L762.7 313.1 L763.9 314.6" stroke-width="0.8"/>
<path d="M743.9 319.7 L743.3 317.3 L743 315 L743 312.8 L743.3 310.7 L743.9 308.9 L744.7 307.3 L745.7 306 L747 305 L748.5 304.4 L750.1 304 L751.9 304.1 L753.7 304.5 L755.6 305.2 L757.5 306.3 L759.4 307.6 L761.2 309.3 L762.9 311.1 L764.4 313.2 L765.7 315.5 L766.9 317.8 L767.7 320.2 L768.4 322.6 L768.7 324.9 L768.8 327.1" stroke-width="0.7"/>
<path d="M746.6 300.6 L748 303.4" stroke-width="0.8"/>
<path d="M753.6 302 L754 304.6 L756 304.4" stroke-width="0.8"/>
<path d="M740.4 310 L742.6 309.2" stroke-width="0.8"/>
<path d="M766.6 329 L768.8 327.8 L769.8 330" stroke-width="0.8"/>
<path d="M746.3 330.4 C746.6 332 747.6 337.1 748.4 340 C749.2 342.9 750.3 345.8 751 348 C751.7 350.2 752.5 352.2 752.8 353" stroke-width="0.8"/>
<path d="M767.2 337.6 C766.8 338.8 765.8 342.7 765 345 C764.2 347.3 763 349.8 762.4 351.5 C761.8 353.2 761.4 354.8 761.2 355.5" stroke-width="0.8"/>
<path d="M749.6 334.6 C750.5 335.4 753.1 338.5 755 339.4 C756.9 340.3 759.1 340.1 761 339.8 C762.9 339.5 765.7 337.8 766.6 337.4" stroke-width="0.8"/>
<path d="M755.8 339 V347.2 M757.2 339.2 V347.2" stroke-width="0.7"/>
<ellipse cx="755.9" cy="359.8" rx="5.7" ry="4.3" transform="rotate(60 755.9 359.8)"/>
<ellipse cx="755.9" cy="359.8" rx="3.4" ry="2.4" transform="rotate(60 755.9 359.8)"/>
<path d="M754.6 360.4 L754.4 359.6 L754.4 358.9 L754.6 358.3 L754.9 357.8 L755.3 357.4 L755.8 357.2 L756.4 357.2 L757 357.4 L757.7 357.8 L758.2 358.3" stroke-width="0.7"/>
</g>
<g id="plateL" transform="translate(-246.9,150.9)">
<path d="M740.8 304.8 C741.7 303.3 743.3 300.9 745 299.5 C746.7 298.1 748.7 297 750.9 296.5 C753.1 296 755.7 295.8 758.1 296.5 C760.5 297.2 762.9 298.2 765.3 300.6 C767.7 303 770.4 307.3 772.5 310.8 C774.6 314.3 776.8 318.2 777.9 321.6 C779 325 779.2 328.1 779 331.1 C778.8 334.1 778 336.3 776.7 339.5 C775.4 342.7 772.8 346.5 771.3 350.3 C769.8 354.1 768.7 359.2 767.7 362.2 C766.7 365.2 766.7 366.9 765.3 368.2 C763.9 369.5 761.1 370.2 759.3 370 C757.5 369.8 755.9 368.7 754.5 367 C753.1 365.3 752 363.4 750.9 359.8 C749.8 356.2 749.2 350.5 748 345.5 C746.8 340.5 745.1 334.9 743.8 329.9 C742.5 324.9 740.9 319.2 740.2 315.6 C739.5 312 739.5 310.2 739.6 308.4 C739.7 306.6 739.9 306.3 740.8 304.8 Z" fill="#fff" stroke-width="0.8"/>
<path d="M739.1 304.1 C740 302.6 741.6 300.2 743.3 298.8 C745 297.4 747 296.3 749.2 295.8 C751.4 295.3 754 295.1 756.4 295.8 C758.8 296.5 761.2 297.5 763.6 299.9 C766 302.3 768.7 306.6 770.8 310.1 C772.9 313.6 775.1 317.5 776.2 320.9 C777.3 324.3 777.5 327.4 777.3 330.4 C777.1 333.4 776.3 335.6 775 338.8 C773.7 342 771.1 345.8 769.6 349.6 C768.1 353.4 767 358.5 766 361.5 C765 364.5 765 366.2 763.6 367.5 C762.2 368.8 759.4 369.5 757.6 369.3 C755.8 369.1 754.2 368 752.8 366.3 C751.4 364.6 750.3 362.7 749.2 359.1 C748.1 355.5 747.5 349.8 746.3 344.8 C745.1 339.8 743.4 334.2 742.1 329.2 C740.8 324.2 739.2 318.5 738.5 314.9 C737.8 311.3 737.8 309.5 737.9 307.7 C738 305.9 738.2 305.6 739.1 304.1 Z" fill="#fff"/>
<ellipse cx="755.9" cy="320.2" rx="19.6" ry="12.6" transform="rotate(60 755.9 320.2)"/>
<ellipse cx="756.6" cy="319.9" rx="14.6" ry="8.6" transform="rotate(60 756.6 319.9)"/>
<path d="M749.9 322.7 L749.1 320.9 L748.6 319.1 L748.2 317.3 L748 315.5 L748 313.9 L748.2 312.4 L748.6 311.1 L749.2 309.9 L750 309 L750.9 308.3 L752 307.8 L753.2 307.6 L754.5 307.7 L755.8 308 L757.2 308.6 L758.6 309.4 L760 310.4 L761.4 311.7 L762.7 313.1 L763.9 314.6" stroke-width="0.8"/>
<path d="M743.9 319.7 L743.3 317.3 L743 315 L743 312.8 L743.3 310.7 L743.9 308.9 L744.7 307.3 L745.7 306 L747 305 L748.5 304.4 L750.1 304 L751.9 304.1 L753.7 304.5 L755.6 305.2 L757.5 306.3 L759.4 307.6 L761.2 309.3 L762.9 311.1 L764.4 313.2 L765.7 315.5 L766.9 317.8 L767.7 320.2 L768.4 322.6 L768.7 324.9 L768.8 327.1" stroke-width="0.7"/>
<path d="M746.6 300.6 L748 303.4" stroke-width="0.8"/>
<path d="M753.6 302 L754 304.6 L756 304.4" stroke-width="0.8"/>
<path d="M740.4 310 L742.6 309.2" stroke-width="0.8"/>
<path d="M766.6 329 L768.8 327.8 L769.8 330" stroke-width="0.8"/>
<path d="M746.3 330.4 C746.6 332 747.6 337.1 748.4 340 C749.2 342.9 750.3 345.8 751 348 C751.7 350.2 752.5 352.2 752.8 353" stroke-width="0.8"/>
<path d="M767.2 337.6 C766.8 338.8 765.8 342.7 765 345 C764.2 347.3 763 349.8 762.4 351.5 C761.8 353.2 761.4 354.8 761.2 355.5" stroke-width="0.8"/>
<path d="M749.6 334.6 C750.5 335.4 753.1 338.5 755 339.4 C756.9 340.3 759.1 340.1 761 339.8 C762.9 339.5 765.7 337.8 766.6 337.4" stroke-width="0.8"/>
<path d="M755.8 339 V347.2 M757.2 339.2 V347.2" stroke-width="0.7"/>
<ellipse cx="755.9" cy="359.8" rx="5.7" ry="4.3" transform="rotate(60 755.9 359.8)"/>
<ellipse cx="755.9" cy="359.8" rx="3.4" ry="2.4" transform="rotate(60 755.9 359.8)"/>
<path d="M754.6 360.4 L754.4 359.6 L754.4 358.9 L754.6 358.3 L754.9 357.8 L755.3 357.4 L755.8 357.2 L756.4 357.2 L757 357.4 L757.7 357.8 L758.2 358.3" stroke-width="0.7"/>
</g>
<g id="brgL" transform="translate(-185.9,116.4)">
<ellipse cx="728.7" cy="334.2" rx="17.4" ry="9.6" transform="rotate(54 728.7 334.2)" fill="#fff"/>
<path d="M711.9 323.8 L718.5 320.1 L738.9 348.3 L732.3 352 Z" fill="#fff" stroke="none"/>
<path d="M711.9 323.8 L718.5 320.1"/>
<path d="M732.3 352 L738.9 348.3"/>
<ellipse cx="722.1" cy="337.9" rx="17.4" ry="9.6" transform="rotate(54 722.1 337.9)" fill="#fff"/>
<ellipse cx="722.3" cy="337.9" rx="15.9" ry="8.3" transform="rotate(54 722.3 337.9)" stroke-width="0.8"/>
<path d="M735.2 348 L733.9 347.9 L732.6 347.6 L731.2 347.2 L729.7 346.5 L728.3 345.5 L726.8 344.4 L725.3 343.2 L724 341.7 L722.6 340.2 L721.4 338.6 L720.3 336.8 L719.4 335.1 L718.6 333.3 L717.9 331.6 L717.4 329.9 L717.2 328.2 L717.1 326.7 L717.2 325.3 L717.5 324.1 L718 323"/>
<path d="M720.4 324.4 L723 325.2" stroke-width="0.9"/>
<path d="M731.8 350.4 L733.6 351.6" stroke-width="1.1"/>
</g>
<g id="gearA">
<path d="M488.2 499.3 L489.4 502.3 L488.5 502.7 L486.4 500.1 L485.5 500.4 L486.2 503.3 L485.1 503.4 L483.4 500.5 L482.4 500.5 L482.5 503.2 L481.2 503 L480 499.9 L478.9 499.6 L478.5 502 L477.2 501.4 L476.5 498.4 L475.4 497.7 L474.4 499.7 L473.1 498.7 L473 496 L471.9 495 L470.4 496.4 L469.2 495.2 L469.7 492.8 L468.7 491.6 L466.8 492.4 L465.8 490.9 L466.8 489 L466 487.7 L463.8 487.8 L462.9 486.2 L464.5 484.9 L463.8 483.5 L461.4 482.8 L460.9 481.2 L462.8 480.6 L462.4 479.2 L459.9 477.9 L459.6 476.3 L461.9 476.3 L461.8 475.1 L459.3 473.1 L459.4 471.7 L461.8 472.4 L461.9 471.3 L459.7 468.9 L460 467.7 L462.5 469 L462.9 468.1 L461 465.3 L461.6 464.4 L464 466.3 L464.7 465.6 L463.2 462.7 L464 462 L466.2 464.5 L467.1 464.1 L466.1 461.1 L467.2 460.8 L469 463.6 L470 463.5 L469.6 460.6 L470.8 460.7 L472.2 463.6 L473.3 463.9 L473.5 461.2 L474.8 461.7 L475.7 464.7 L476.9 465.3 L477.6 463 L478.9 463.8 L479.3 466.7 L480.4 467.5 L481.6 465.9 L482.9 466.9 L482.7 469.5 L483.7 470.6 L485.4 469.5 L486.6 470.9 L485.8 473 L486.7 474.3 L488.8 473.9 L489.7 475.4 L488.4 477 L489.2 478.4 L491.5 478.7 L492.2 480.3 L490.5 481.3 L491 482.7 L493.4 483.7 L493.9 485.2 L491.8 485.6 L492 486.9 L494.5 488.5 L494.6 490 L492.3 489.7 L492.3 490.9 L494.6 493.1 L494.4 494.4 L492 493.3 L491.7 494.4 L493.7 497 L493.3 498.1 L490.8 496.4 L490.3 497.2 L492 500.1 L491.3 500.9 L489 498.7 Z" fill="#fff" stroke-width="0.8"/>
<path d="M485.9 500.2 L487.1 503.2 L486.2 503.6 L484.1 501 L483.2 501.3 L483.9 504.2 L482.8 504.3 L481.1 501.4 L480.1 501.4 L480.2 504.1 L478.9 503.9 L477.7 500.8 L476.6 500.5 L476.2 502.9 L474.9 502.3 L474.2 499.3 L473.1 498.6 L472.1 500.6 L470.8 499.6 L470.7 496.9 L469.6 495.9 L468.1 497.3 L466.9 496.1 L467.4 493.7 L466.4 492.5 L464.5 493.3 L463.5 491.8 L464.5 489.9 L463.7 488.6 L461.5 488.7 L460.6 487.1 L462.2 485.8 L461.5 484.4 L459.1 483.7 L458.6 482.1 L460.5 481.5 L460.1 480.1 L457.6 478.8 L457.3 477.2 L459.6 477.2 L459.5 476 L457 474 L457.1 472.6 L459.5 473.3 L459.6 472.2 L457.4 469.8 L457.7 468.6 L460.2 469.9 L460.6 469 L458.7 466.2 L459.3 465.3 L461.7 467.2 L462.4 466.5 L460.9 463.6 L461.7 462.9 L463.9 465.4 L464.8 465 L463.8 462 L464.9 461.7 L466.7 464.5 L467.7 464.4 L467.3 461.5 L468.5 461.6 L469.9 464.5 L471 464.8 L471.2 462.1 L472.5 462.6 L473.4 465.6 L474.6 466.2 L475.3 463.9 L476.6 464.7 L477 467.6 L478.1 468.4 L479.3 466.8 L480.6 467.8 L480.4 470.4 L481.4 471.5 L483.1 470.4 L484.3 471.8 L483.5 473.9 L484.4 475.2 L486.5 474.8 L487.4 476.3 L486.1 477.9 L486.9 479.3 L489.2 479.6 L489.9 481.2 L488.2 482.2 L488.7 483.6 L491.1 484.6 L491.6 486.1 L489.5 486.5 L489.7 487.8 L492.2 489.4 L492.3 490.9 L490 490.6 L490 491.8 L492.3 494 L492.1 495.3 L489.7 494.2 L489.4 495.3 L491.4 497.9 L491 499 L488.5 497.3 L488 498.1 L489.7 501 L489 501.8 L486.7 499.6 Z" fill="#fff" stroke-width="0.85"/>
<ellipse cx="473.8" cy="482.4" rx="9.2" ry="5.6" transform="rotate(57 473.8 482.4)"/>
<path d="M479.5 489.3 L478.5 489.2 L477.5 488.9 L476.5 488.4 L475.5 487.8 L474.5 487 L473.6 486.1 L472.7 485 L471.9 483.9 L471.2 482.7 L470.7 481.5 L470.3 480.2 L470 479 L469.9 477.9 L470 476.8 L470.2 475.8 L470.5 474.9" stroke-width="0.85"/>
<path d="M476.4 474.4 L477.2 475.8" stroke-width="1"/>
<path d="M476 489.8 L477.8 489" stroke-width="0.9"/>
</g>
<g id="gearB">
<path d="M488.2 582.1 L489.4 585.1 L488.5 585.5 L486.4 582.9 L485.5 583.2 L486.2 586.1 L485.1 586.2 L483.4 583.3 L482.4 583.3 L482.5 586 L481.2 585.8 L480 582.7 L478.9 582.4 L478.5 584.8 L477.2 584.2 L476.5 581.2 L475.4 580.5 L474.4 582.5 L473.1 581.5 L473 578.8 L471.9 577.8 L470.4 579.2 L469.2 578 L469.7 575.6 L468.7 574.4 L466.8 575.2 L465.8 573.7 L466.8 571.8 L466 570.5 L463.8 570.6 L462.9 569 L464.5 567.7 L463.8 566.3 L461.4 565.6 L460.9 564 L462.8 563.4 L462.4 562 L459.9 560.7 L459.6 559.1 L461.9 559.1 L461.8 557.9 L459.3 555.9 L459.4 554.5 L461.8 555.2 L461.9 554.1 L459.7 551.7 L460 550.5 L462.5 551.8 L462.9 550.9 L461 548.1 L461.6 547.2 L464 549.1 L464.7 548.4 L463.2 545.5 L464 544.8 L466.2 547.3 L467.1 546.9 L466.1 543.9 L467.2 543.6 L469 546.4 L470 546.3 L469.6 543.4 L470.8 543.5 L472.2 546.4 L473.3 546.7 L473.5 544 L474.8 544.5 L475.7 547.5 L476.9 548.1 L477.6 545.8 L478.9 546.6 L479.3 549.5 L480.4 550.3 L481.6 548.7 L482.9 549.7 L482.7 552.3 L483.7 553.4 L485.4 552.3 L486.6 553.7 L485.8 555.8 L486.7 557.1 L488.8 556.7 L489.7 558.2 L488.4 559.8 L489.2 561.2 L491.5 561.5 L492.2 563.1 L490.5 564.1 L491 565.5 L493.4 566.5 L493.9 568 L491.8 568.4 L492 569.7 L494.5 571.3 L494.6 572.8 L492.3 572.5 L492.3 573.7 L494.6 575.9 L494.4 577.2 L492 576.1 L491.7 577.2 L493.7 579.8 L493.3 580.9 L490.8 579.2 L490.3 580 L492 582.9 L491.3 583.7 L489 581.5 Z" fill="#fff" stroke-width="0.8"/>
<path d="M485.9 583 L487.1 586 L486.2 586.4 L484.1 583.8 L483.2 584.1 L483.9 587 L482.8 587.1 L481.1 584.2 L480.1 584.2 L480.2 586.9 L478.9 586.7 L477.7 583.6 L476.6 583.3 L476.2 585.7 L474.9 585.1 L474.2 582.1 L473.1 581.4 L472.1 583.4 L470.8 582.4 L470.7 579.7 L469.6 578.7 L468.1 580.1 L466.9 578.9 L467.4 576.5 L466.4 575.3 L464.5 576.1 L463.5 574.6 L464.5 572.7 L463.7 571.4 L461.5 571.5 L460.6 569.9 L462.2 568.6 L461.5 567.2 L459.1 566.5 L458.6 564.9 L460.5 564.3 L460.1 562.9 L457.6 561.6 L457.3 560 L459.6 560 L459.5 558.8 L457 556.8 L457.1 555.4 L459.5 556.1 L459.6 555 L457.4 552.6 L457.7 551.4 L460.2 552.7 L460.6 551.8 L458.7 549 L459.3 548.1 L461.7 550 L462.4 549.3 L460.9 546.4 L461.7 545.7 L463.9 548.2 L464.8 547.8 L463.8 544.8 L464.9 544.5 L466.7 547.3 L467.7 547.2 L467.3 544.3 L468.5 544.4 L469.9 547.3 L471 547.6 L471.2 544.9 L472.5 545.4 L473.4 548.4 L474.6 549 L475.3 546.7 L476.6 547.5 L477 550.4 L478.1 551.2 L479.3 549.6 L480.6 550.6 L480.4 553.2 L481.4 554.3 L483.1 553.2 L484.3 554.6 L483.5 556.7 L484.4 558 L486.5 557.6 L487.4 559.1 L486.1 560.7 L486.9 562.1 L489.2 562.4 L489.9 564 L488.2 565 L488.7 566.4 L491.1 567.4 L491.6 568.9 L489.5 569.3 L489.7 570.6 L492.2 572.2 L492.3 573.7 L490 573.4 L490 574.6 L492.3 576.8 L492.1 578.1 L489.7 577 L489.4 578.1 L491.4 580.7 L491 581.8 L488.5 580.1 L488 580.9 L489.7 583.8 L489 584.6 L486.7 582.4 Z" fill="#fff" stroke-width="0.85"/>
<ellipse cx="473.8" cy="565.2" rx="9.2" ry="5.6" transform="rotate(57 473.8 565.2)"/>
<path d="M479.5 572.1 L478.5 572 L477.5 571.7 L476.5 571.2 L475.5 570.6 L474.5 569.8 L473.6 568.9 L472.7 567.8 L471.9 566.7 L471.2 565.5 L470.7 564.3 L470.3 563 L470 561.8 L469.9 560.7 L470 559.6 L470.2 558.6 L470.5 557.7" stroke-width="0.85"/>
<path d="M476.4 557.2 L477.2 558.6" stroke-width="1"/>
<path d="M476 572.6 L477.8 571.8" stroke-width="0.9"/>
</g>
<g id="gearH">
<path d="M457.5 508.1 L458.2 510.4 L457.2 510.7 L455.8 508.5 L454.9 508.6 L454.9 510.7 L453.8 510.6 L452.8 508.2 L451.8 507.9 L451.2 509.7 L450.1 509.1 L449.7 506.8 L448.7 506.1 L447.6 507.4 L446.5 506.4 L446.8 504.4 L445.9 503.4 L444.3 504 L443.4 502.8 L444.3 501.2 L443.6 500.1 L441.7 500 L441.1 498.6 L442.4 497.6 L442 496.5 L440.1 495.6 L439.8 494.2 L441.5 494 L441.4 492.8 L439.5 491.4 L439.6 490.1 L441.5 490.6 L441.7 489.6 L440.1 487.6 L440.5 486.6 L442.5 487.8 L443 487.1 L441.8 484.8 L442.5 484.2 L444.3 485.9 L445.1 485.5 L444.4 483.2 L445.4 482.9 L446.8 485.1 L447.7 485 L447.7 482.9 L448.8 483 L449.8 485.4 L450.8 485.7 L451.4 483.9 L452.5 484.5 L452.9 486.8 L453.9 487.5 L455 486.2 L456.1 487.2 L455.8 489.2 L456.7 490.2 L458.3 489.6 L459.2 490.8 L458.3 492.4 L459 493.5 L460.9 493.6 L461.5 495 L460.2 496 L460.6 497.1 L462.5 498 L462.8 499.4 L461.1 499.6 L461.2 500.8 L463.1 502.2 L463 503.5 L461.1 503 L460.9 504 L462.5 506 L462.1 507 L460.1 505.8 L459.6 506.5 L460.8 508.8 L460.1 509.4 L458.3 507.7 Z" fill="#fff" stroke-width="0.8"/>
<path d="M433.3 488.6 L442.9 483.9 L459.7 509.7 L450.1 514.4 Z" fill="#fff" stroke="none"/>
<path d="M434.5 488.5 L450.6 484" stroke-width="1.1"/>
<path d="M437.6 487.9 L454.1 486" stroke-width="1.1"/>
<path d="M441.1 488.7 L457.4 489" stroke-width="1.1"/>
<path d="M444.6 490.7 L460.1 492.8" stroke-width="1.1"/>
<path d="M447.9 493.8 L461.9 497" stroke-width="1.1"/>
<path d="M450.6 497.6 L462.7 501.2" stroke-width="1.1"/>
<path d="M452.4 501.8 L462.4 505" stroke-width="1.1"/>
<path d="M453.1 506 L461 507.9" stroke-width="1.1"/>
<path d="M452.8 509.8 L458.6 509.8" stroke-width="1.1"/>
<path d="M448.7 512.3 L449.6 514.7 L448.7 515.1 L447.1 513.1 L446.2 513.2 L446.5 515.5 L445.4 515.5 L444.3 513.2 L443.3 512.9 L442.9 514.9 L441.8 514.4 L441.2 512.1 L440.2 511.5 L439.3 513 L438.1 512.2 L438.2 510 L437.2 509.2 L435.8 510 L434.8 508.8 L435.5 507.1 L434.7 506 L432.9 506.2 L432.2 504.8 L433.4 503.6 L432.9 502.5 L430.9 501.8 L430.5 500.4 L432.1 499.9 L431.9 498.8 L430 497.5 L429.9 496.2 L431.8 496.4 L431.9 495.4 L430.2 493.6 L430.5 492.4 L432.4 493.4 L432.8 492.6 L431.5 490.4 L432.1 489.6 L434 491.2 L434.7 490.7 L433.8 488.3 L434.7 487.9 L436.3 489.9 L437.2 489.8 L436.9 487.5 L438 487.5 L439.1 489.8 L440.1 490.1 L440.5 488.1 L441.6 488.6 L442.2 490.9 L443.2 491.5 L444.1 490 L445.3 490.8 L445.2 493 L446.2 493.8 L447.6 493 L448.6 494.2 L447.9 495.9 L448.7 497 L450.5 496.8 L451.2 498.2 L450 499.4 L450.5 500.5 L452.5 501.2 L452.9 502.6 L451.3 503.1 L451.5 504.2 L453.4 505.5 L453.5 506.8 L451.6 506.6 L451.5 507.6 L453.2 509.4 L452.9 510.6 L451 509.6 L450.6 510.4 L451.9 512.6 L451.3 513.4 L449.4 511.8 Z" fill="#fff" stroke-width="0.85"/>
<ellipse cx="441.7" cy="501.5" rx="8.6" ry="5.5" transform="rotate(57 441.7 501.5)"/>
</g>
<path d="M441 502 L421.1 513.2 L432.3 514.7"/>
<g id="washers">
<ellipse cx="586.8" cy="530.4" rx="15.2" ry="8.3" transform="rotate(56 586.8 530.4)" fill="#fff"/>
<ellipse cx="586.6" cy="530.4" rx="9.7" ry="5.3" transform="rotate(56 586.6 530.4)"/>
<path d="M566.9 541.6 L585.9 530.9"/>
<ellipse cx="557" cy="548.5" rx="9.6" ry="6" transform="rotate(57 557 548.5)" fill="#fff"/>
<ellipse cx="555.7" cy="548.2" rx="9.6" ry="6" transform="rotate(57 555.7 548.2)" fill="#fff"/>
<ellipse cx="555.3" cy="549.3" rx="4" ry="2.8" transform="rotate(57 555.3 549.3)"/>
<ellipse cx="555.3" cy="549.3" rx="2.4" ry="1.6" transform="rotate(57 555.3 549.3)" stroke-width="0.7"/>
<path d="M547.5 552.7 L553.8 549.3"/>
<path d="M553.8 549.3 L556.8 548" stroke-width="0.7"/>
</g>
<g id="bolt92002">
<path d="M532 559.4 L543.6 553.1 L545 556 L533.6 562.4 Z" fill="#fff" stroke-width="0.8"/>
<path d="M533.4 558.7 L534.9 561.6 M534.7 558 L536.2 560.9 M536 557.3 L537.5 560.2 M537.3 556.6 L538.8 559.5 M538.6 555.9 L540.1 558.8 M539.9 555.2 L541.4 558.1 M541.2 554.5 L542.7 557.4 M542.5 553.8 L544 556.7 M543.8 553.1 L545.3 556 " stroke-width="0.8"/>
<ellipse cx="527.9" cy="564.7" rx="4.9" ry="4.4" fill="#fff"/>
<ellipse cx="527.3" cy="564.2" rx="4.8" ry="4.3" fill="#fff"/>
<path d="M524.6 562.6 L527 560.9 L529.8 561.6 L530.6 564 L528.6 566.4 L525.4 565.8 Z" stroke-width="0.8"/>
</g>
<g id="bushing">
<path d="M729.3 485.5 L729.3 500.4 A11.1 6 0 0 0 751.5 500.4 L751.5 485.5" fill="#fff"/>
<ellipse cx="740.4" cy="485.5" rx="11.1" ry="6" fill="#fff"/>
<ellipse cx="740.4" cy="485.6" rx="10.1" ry="5.1" stroke-width="0.8"/>
</g>
<ellipse cx="740.4" cy="516.7" rx="10.6" ry="6" stroke="#222" stroke-width="1.7"/>
<g id="flange">
<path d="M718.8 564.1 L718.8 566.7 A21.6 11.2 0 0 0 762 566.7 L762 564.1" fill="#fff"/>
<ellipse cx="740.4" cy="564.1" rx="21.6" ry="11.2" fill="#fff"/>
<ellipse cx="740.4" cy="563.6" rx="19.4" ry="9.6" stroke-width="0.7"/>
<ellipse cx="728.3" cy="554.8" rx="2.2" ry="1.3" stroke-width="0.8"/>
<ellipse cx="752.4" cy="554.8" rx="2.2" ry="1.3" stroke-width="0.8"/>
<ellipse cx="720.9" cy="563.3" rx="2.2" ry="1.3" stroke-width="0.8"/>
<ellipse cx="759.9" cy="563.3" rx="2.2" ry="1.3" stroke-width="0.8"/>
<ellipse cx="728.3" cy="570.4" rx="2.2" ry="1.3" stroke-width="0.8"/>
<ellipse cx="752.4" cy="570.4" rx="2.2" ry="1.3" stroke-width="0.8"/>
<path d="M737.6 575 Q737.6 572.6 740.4 572.6 Q743.2 572.6 743.2 575" stroke-width="0.8"/>
<ellipse cx="740.4" cy="561.8" rx="12.2" ry="5.3" fill="#fff"/>
<path d="M728.2 559.4 L728.2 561.8 M752.6 559.4 L752.6 561.8" stroke-width="0.8"/>
<ellipse cx="740.4" cy="559.4" rx="12.2" ry="5.3" fill="#fff"/>
<path d="M730.6 533.9 L730.6 558.4 A9.8 4.4 0 0 0 750.2 558.4 L750.2 533.9" fill="#fff"/>
<ellipse cx="740.4" cy="533.9" rx="9.8" ry="5" fill="#fff"/>
<ellipse cx="740.4" cy="534.3" rx="7.1" ry="3.5"/>
<path d="M733.9 535.1 L734.3 534.5 L735.1 533.8 L736.1 533.3 L737.4 532.9 L738.9 532.7 L740.4 532.6 L741.9 532.7 L743.4 532.9 L744.7 533.3 L745.7 533.8 L746.5 534.5 L746.9 535.1" stroke-width="0.7"/>
<path d="M730.6 544.6 A9.8 4.4 0 0 0 750.2 544.6" stroke-width="0.75"/>
<path d="M730.6 546.6 A9.8 4.4 0 0 0 750.2 546.6" stroke-width="0.75"/>
<path d="M730.6 548.4 A9.8 4.4 0 0 0 750.2 548.4" stroke-width="0.75"/>
</g>
<g id="plug">
<path d="M725.2 588 L725.4 591 Q728.5 593.4 732 591.2 L732.2 588.2" fill="#fff" stroke-width="0.8"/>
<path d="M723.8 585 L723.9 587.2 Q728.4 590.6 733.4 587.4 L733.4 585" fill="#fff" stroke-width="0.85"/>
<ellipse cx="728.6" cy="585" rx="4.8" ry="2.9" fill="#fff"/>
<ellipse cx="728.6" cy="585" rx="2.7" ry="1.5" stroke-width="0.8"/>
</g>
<g id="block">
<path d="M694.5 428.8 L710.9 420.4 L714.2 421.5 L718.2 426.6 L723.8 422.1 L727.2 420.9 L726.1 416.4 L728.9 409.7 L745.3 400.1 L756.1 405.7 L758.6 413.3 L765.2 418.6 L769.7 415.7 L773.6 415.5 L775.9 420.3 L779.6 419.7 L789.5 424.9 L789.5 442.6 L738.6 474.1 L723 474 L711.5 467 L694.5 448.2 Z" fill="#fff"/>
<path d="M738.6 474.1 L738.6 453.7 L757.3 444.7 L757.8 453.7 L769.7 447.5 L769.7 437.9 L789.5 425.6"/>
<path d="M757.3 444.7 L769.7 437.9" stroke-width="0.7"/>
<path d="M694.5 428.8 C696.5 429.8 702 430.5 704.7 433.9 C707.4 437.3 706.4 441.4 708 445.8 C709.6 450.2 710.1 452.5 712.6 455.9 C715.1 459.3 718 462.7 720.5 462.7 C723 462.7 723.4 458.8 725 455.9 C726.6 453 726.6 450.5 728.3 448 C730 445.5 732.4 444.4 733.4 443.5"/>
<path d="M733.4 443.5 L727.2 440.1 L714.2 432.8 L704.7 433.9" stroke-width="0.85"/>
<path d="M728.3 448 L738.6 453.7"/>
<ellipse cx="710.3" cy="428.8" rx="4.3" ry="2.6"/>
<path d="M711.6 450.4 L720.6 441.8 L725.8 446.6 L717.2 457.6" fill="#fff" stroke="none"/>
<path d="M711.4 450.6 L720.4 442"/>
<path d="M717.4 457.6 L726 448.6"/>
<ellipse cx="714.3" cy="454.2" rx="4.7" ry="3" transform="rotate(50 714.3 454.2)" fill="#fff"/>
<path d="M720.4 442 C721.1 441.9 723.3 441.2 724.4 441.6 C725.5 442 726.7 443.4 727 444.6 C727.3 445.8 726.2 447.9 726 448.6"/>
<path d="M716.6 440.8 C717.3 440.4 719.4 438.7 721 438.6 C722.6 438.5 725 439.3 726.4 440.4 C727.8 441.5 728.7 444.4 729.2 445.2" stroke-width="0.8"/>
<path d="M713.6 434.6 L716.6 446" stroke-width="0.8"/>
<path d="M708.6 445.6 L712 451" stroke-width="0.7"/>
<path d="M719 458.6 C719.6 458.2 721.4 456.8 722.4 456.4 C723.4 455.9 724.6 456 725 455.9" stroke-width="0.7"/>
<path d="M718.2 426.6 L727.4 433.6 L731.6 436" stroke-width="0.8"/>
<path d="M727.2 420.9 L741.4 431.6" stroke-width="0.8"/>
<path d="M719.6 427.4 C720.4 427.8 722.8 428.8 724.6 430 C726.4 431.2 729.4 433.8 730.4 434.6" stroke-width="0.6"/>
<path d="M731.6 436 L736.6 433.4 L741.4 431.6" stroke-width="0.8"/>
<path d="M733.4 443.5 C734.2 442.6 735.9 439.5 738 438.4 C740.1 437.2 743.4 436.4 746 436.6 C748.6 436.8 752.3 439.1 753.6 439.6" stroke-width="0.8"/>
<path d="M732.4 437.6 C733.7 437.2 737.4 435.4 740 435.2 C742.6 435 745.5 435.4 748 436.4 C750.5 437.4 753.8 440.2 755 441" stroke-width="0.7"/>
<path d="M728.9 409.7 L736.9 413.1" stroke-width="0.8"/>
<path d="M756.1 405.7 L749.9 409 L752.8 411.9 L758.6 413.3" stroke-width="0.85"/>
<path d="M749.9 409 L745.6 406.6" stroke-width="0.7"/>
<path d="M728.6 415 L730.4 413.6 L745.8 426.6 L744.2 428.2 Z" fill="#9a9a9a" stroke-width="0.8"/>
<path d="M726.4 416.6 L742.4 430 L744.2 428.2" stroke-width="0.8"/>
<path d="M745.8 426.6 L748.2 428.8 L746.6 432" stroke-width="0.8"/>
<path d="M736.9 413.1 C738.2 413 742.2 412.2 745 412.6 C747.8 413 751.1 413.8 753.9 415.3 C756.7 416.8 759.5 419.3 761.6 421.6 C763.7 423.9 765.5 427.7 766.3 428.9" stroke-width="0.85"/>
<path d="M736.9 413.1 C737.7 414.2 739.7 417.5 741.6 419.4 C743.5 421.3 745.6 422.9 748.2 424.4 C750.8 425.9 754 427.6 757 428.4 C760 429.1 764.8 428.8 766.3 428.9" stroke-width="0.85"/>
<path d="M738.6 413.2 C739.8 413.4 743.4 413.8 746 414.6 C748.6 415.4 751.5 416.5 754 418 C756.5 419.5 759.8 422.5 761 423.4" stroke-width="0.6"/>
<ellipse cx="750.5" cy="431.7" rx="2.8" ry="3.4" transform="rotate(-20 750.5 431.7)"/>
<path d="M755 434.5 C755.8 434.2 758.2 433 760 432.8 C761.8 432.6 764 432.5 766 433.2 C768 433.9 771 436.2 772 436.8" stroke-width="0.85"/>
<path d="M755 434.5 C755.9 435.2 758.7 437.8 760.6 438.6 C762.5 439.4 764.7 439.7 766.6 439.4 C768.5 439.1 771.1 437.2 772 436.8" stroke-width="0.85"/>
<path d="M756.6 435.6 C757.5 435.8 760.1 436.5 762 436.6 C763.9 436.7 767 436.4 768 436.4" stroke="#888" stroke-width="1.2"/>
<path d="M753.4 436.6 C753.6 437.3 753.8 439.6 754.4 441 C755 442.4 756.8 444.1 757.3 444.7" stroke-width="0.8"/>
<path d="M772 436.8 L769.7 437.9" stroke-width="0.8"/>
<path d="M766.3 428.9 C767 429.2 769.4 429.8 770.6 430.6 C771.8 431.4 773.4 432.6 773.6 433.6 C773.8 434.6 772.3 436.3 772 436.8" stroke-width="0.8"/>
<ellipse cx="773.7" cy="424.6" rx="4" ry="2.5"/>
<path d="M769.7 415.7 C769.8 416.2 769.9 418 770.4 419 C770.9 420 772.6 421.2 773 421.6" stroke-width="0.7"/>
</g>
</svg>
<div id="thead">
<span style="left:113px">Ref #</span>
<span style="left:205px">Part #</span>
<span style="left:368px">Description</span>
<span style="left:557px">Qty</span>
<span style="left:796px">Context Note</span>
</div>
<div class="row r0" style="top:672px"><span style="left:134px">13001</span><span style="left:228px">13001-2135</span><span style="left:396px">PISTON-ENGINE</span><span style="left:565px">1</span></div>
<div class="row r1" style="top:690px"><span style="left:134px">13002</span><span style="left:228px">13002-2079</span><span style="left:396px">PIN-PISTON</span><span style="left:565px">1</span></div>
<div class="row r2" style="top:708px"><span style="left:134px">13008</span><span style="left:228px">13008-6028</span><span style="left:396px">RING-SET-PISTON</span><span style="left:565px">1</span></div>
<div class="row r1" style="top:726px"><span style="left:134px">13025</span><span style="left:228px">13025-2098</span><span style="left:396px">RING-SET-PISTON L,0.5</span><span style="left:565px">AR</span></div>
<div class="row r2" style="top:744px"><span style="left:134px">13029</span><span style="left:228px">13029-2118</span><span style="left:396px">PISTON-ENGINE L,0.5</span><span style="left:565px">AR</span></div>
<svg id="tblicons" width="927" height="116" viewBox="0 637 927 116" style="position:absolute;left:0;top:637px">
<path d="M75 655.2 L79 650.4 L83 655.2 Z M75 656.8 L79 661.6 L83 656.8 Z" fill="#fff"/>
<path d="M162 655.2 L166 650.4 L170 655.2 Z M162 656.8 L166 661.6 L170 656.8 Z" fill="#fff"/>
<path d="M263 655.2 L267 650.4 L271 655.2 Z M263 656.8 L267 661.6 L271 656.8 Z" fill="#fff"/>
<path d="M500 655.2 L504 650.4 L508 655.2 Z M500 656.8 L504 661.6 L508 656.8 Z" fill="#fff"/>
<path d="M600 655.2 L604 650.4 L608 655.2 Z M600 656.8 L604 661.6 L608 656.8 Z" fill="#fff"/>
<rect x="352.8" y="648.3" width="11.6" height="11.6" fill="#9a9a9a"/><path d="M355.1 654 L357.6 657 L362.40000000000003 650.3" fill="none" stroke="#fff" stroke-width="2"/>
<rect x="541" y="648.3" width="11.6" height="11.6" fill="#9a9a9a"/><path d="M543.3 654 L545.8 657 L550.6 650.3" fill="none" stroke="#fff" stroke-width="2"/>
<rect x="781.9" y="648.3" width="11.6" height="11.6" fill="#9a9a9a"/><path d="M784.1999999999999 654 L786.6999999999999 657 L791.5 650.3" fill="none" stroke="#fff" stroke-width="2"/>
<rect x="72.6" y="673.7" width="14" height="14.6" rx="1.8" fill="#fff" stroke="#111" stroke-width="1"/><path d="M74.2 673.6 H85.2" stroke="#111" stroke-width="1.6" stroke-dasharray="1 1"/><path d="M74.2 675.0 H85.2" stroke="#fff" stroke-width="0.8" stroke-dasharray="1 1" stroke-dashoffset="0"/><path d="M75.5 678.7 H81 M75.5 681.3 H79 M75.8 684.1 H83.5" stroke="#1a1a9a" stroke-width="1.2"/><path d="M76.6 681.7 L79 684.7 L84.4 677.3" fill="none" stroke="#10108a" stroke-width="1.7"/><path d="M73.6 687.9 H86 M86.4 675.7 V687.3" stroke="#888" stroke-width="0.8"/>
<rect x="72.6" y="691.7" width="14" height="14.6" rx="1.8" fill="#fff" stroke="#111" stroke-width="1"/><path d="M74.2 691.6 H85.2" stroke="#111" stroke-width="1.6" stroke-dasharray="1 1"/><path d="M74.2 693.0 H85.2" stroke="#fff" stroke-width="0.8" stroke-dasharray="1 1" stroke-dashoffset="0"/><path d="M75.5 696.7 H81 M75.5 699.3 H79 M75.8 702.1 H83.5" stroke="#1a1a9a" stroke-width="1.2"/><path d="M76.6 699.7 L79 702.7 L84.4 695.3" fill="none" stroke="#10108a" stroke-width="1.7"/><path d="M73.6 705.9 H86 M86.4 693.7 V705.3" stroke="#888" stroke-width="0.8"/>
<rect x="72.6" y="709.7" width="14" height="14.6" rx="1.8" fill="#fff" stroke="#111" stroke-width="1"/><path d="M74.2 709.6 H85.2" stroke="#111" stroke-width="1.6" stroke-dasharray="1 1"/><path d="M74.2 711.0 H85.2" stroke="#fff" stroke-width="0.8" stroke-dasharray="1 1" stroke-dashoffset="0"/><path d="M75.5 714.7 H81 M75.5 717.3 H79 M75.8 720.1 H83.5" stroke="#1a1a9a" stroke-width="1.2"/><path d="M76.6 717.7 L79 720.7 L84.4 713.3" fill="none" stroke="#10108a" stroke-width="1.7"/><path d="M73.6 723.9 H86 M86.4 711.7 V723.3" stroke="#888" stroke-width="0.8"/>
<rect x="72.6" y="727.7" width="14" height="14.6" rx="1.8" fill="#fff" stroke="#111" stroke-width="1"/><path d="M74.2 727.6 H85.2" stroke="#111" stroke-width="1.6" stroke-dasharray="1 1"/><path d="M74.2 729.0 H85.2" stroke="#fff" stroke-width="0.8" stroke-dasharray="1 1" stroke-dashoffset="0"/><path d="M75.5 732.7 H81 M75.5 735.3 H79 M75.8 738.1 H83.5" stroke="#1a1a9a" stroke-width="1.2"/><path d="M76.6 735.7 L79 738.7 L84.4 731.3" fill="none" stroke="#10108a" stroke-width="1.7"/><path d="M73.6 741.9 H86 M86.4 729.7 V741.3" stroke="#888" stroke-width="0.8"/>
<rect x="72.6" y="745.7" width="14" height="14.6" rx="1.8" fill="#fff" stroke="#111" stroke-width="1"/><path d="M74.2 745.6 H85.2" stroke="#111" stroke-width="1.6" stroke-dasharray="1 1"/><path d="M74.2 747.0 H85.2" stroke="#fff" stroke-width="0.8" stroke-dasharray="1 1" stroke-dashoffset="0"/><path d="M75.5 750.7 H81 M75.5 753.3 H79 M75.8 756.1 H83.5" stroke="#1a1a9a" stroke-width="1.2"/><path d="M76.6 753.7 L79 756.7 L84.4 749.3" fill="none" stroke="#10108a" stroke-width="1.7"/><path d="M73.6 759.9 H86 M86.4 747.7 V759.3" stroke="#888" stroke-width="0.8"/>
<path transform="translate(0,0)" d="M35.8 687.6 C36 680.6 40 676.3 47.2 676.1 L47 673.5 L52.9 678.0 L47.9 682.9 L47.7 679.9 C43 680.0 39.8 682.6 37.9 687.5 Z" fill="#0a0a0a"/>
<path transform="translate(-1.5,0)" d="M35.8 759.6 C36 752.6 40 748.3 47.2 748.1 L47 745.5 L52.9 750.0 L47.9 754.9 L47.7 751.9 C43 752.0 39.8 754.6 37.9 759.5 Z" fill="#0a0a0a"/>
</svg>
</body>
</html>
